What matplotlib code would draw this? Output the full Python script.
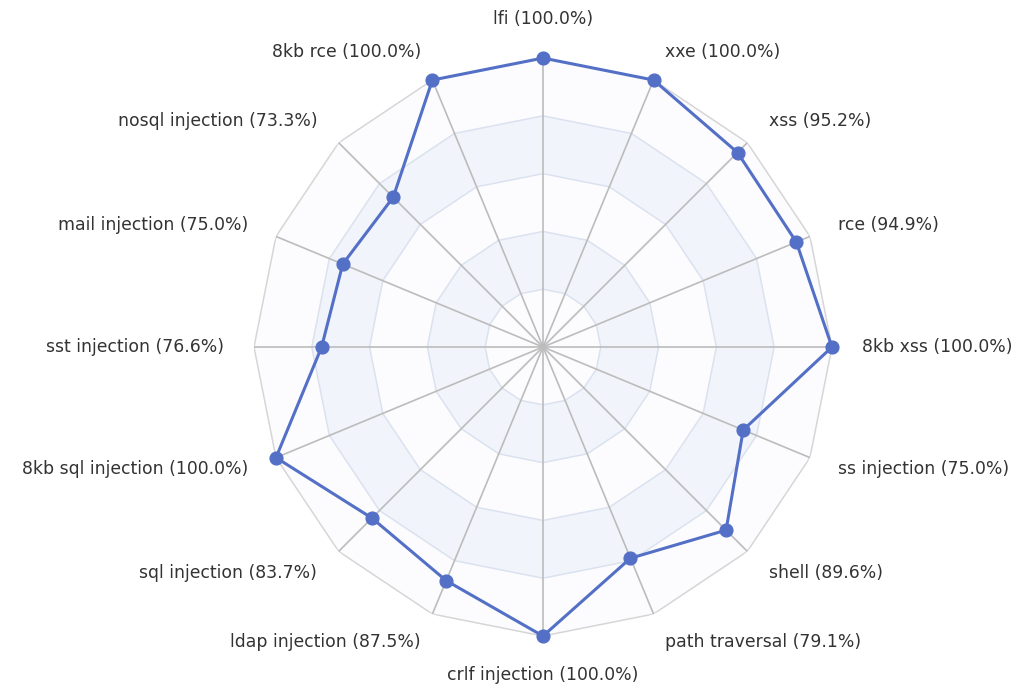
import numpy as np
import matplotlib
matplotlib.use('Agg')
import matplotlib.pyplot as plt

# axes listed clockwise starting from the top
categories = ['lfi', 'xxe', 'xss', 'rce', '8kb xss', 'ss injection', 'shell',
              'path traversal', 'crlf injection', 'ldap injection', 'sql injection',
              '8kb sql injection', 'sst injection', 'mail injection',
              'nosql injection', '8kb rce']
scores = [100.0, 100.0, 95.2, 94.9, 100.0, 75.0, 89.6, 79.1, 100.0, 87.5,
          83.7, 100.0, 76.6, 75.0, 73.3, 100.0]
rings = [20, 40, 60, 80, 100]

plt.rcParams['font.family'] = ['DejaVu Sans']

n = len(categories)
theta = np.arange(n) * 2 * np.pi / n
theta_closed = np.append(theta, theta[0])

fig = plt.figure(figsize=(10.15, 6.87), dpi=100)
ax = fig.add_axes([0.2502, 0.0742, 0.5695, 0.8413], projection='polar')
ax.set_theta_zero_location('N')
ax.set_theta_direction(-1)
ax.set_ylim(0, 100)
ax.grid(False)
ax.spines['polar'].set_visible(False)
ax.set_xticks([])
ax.set_yticks([])
ax.patch.set_alpha(0)

# split areas, outer first so inner ones paint over
band_colors = ['#fcfcfe', '#f1f4fa']
for i in range(len(rings) - 1, -1, -1):
    r = rings[i]
    ax.fill(theta_closed, [r] * (n + 1), color=band_colors[i % 2], zorder=1, lw=0)
    if i > 0:
        ax.fill(theta_closed, [rings[i - 1]] * (n + 1), color='white', zorder=1, lw=0)

for r in rings:
    c = '#d6d6d6' if r == rings[-1] else '#dbe2ef'
    ax.plot(theta_closed, [r] * (n + 1), color=c, lw=1.1, zorder=2)

# spokes
for t in theta:
    ax.plot([t, t], [0, 100], color='#bcbcbc', lw=1.2, zorder=3)

vals = np.append(scores, scores[0])
ax.plot(theta_closed, vals, color='#5470c6', lw=2.2, zorder=4, clip_on=False)
ax.plot(theta, scores, 'o', color='#5470c6', markersize=9.2, zorder=5, clip_on=False)

# axis names
for t, name, v in zip(theta, categories, scores):
    s, c = np.sin(t), np.cos(t)
    if abs(s) < 1e-6:
        ha = 'center'
        va = 'bottom' if c > 0 else 'top'
    else:
        ha = 'left' if s > 0 else 'right'
        va = 'center'
    ax.text(t, 110.5, f'{name} ({v:.1f}%)', ha=ha, va=va, fontsize=12.4,
            color='#333333', clip_on=False)

fig.savefig('out.png', dpi=100)
